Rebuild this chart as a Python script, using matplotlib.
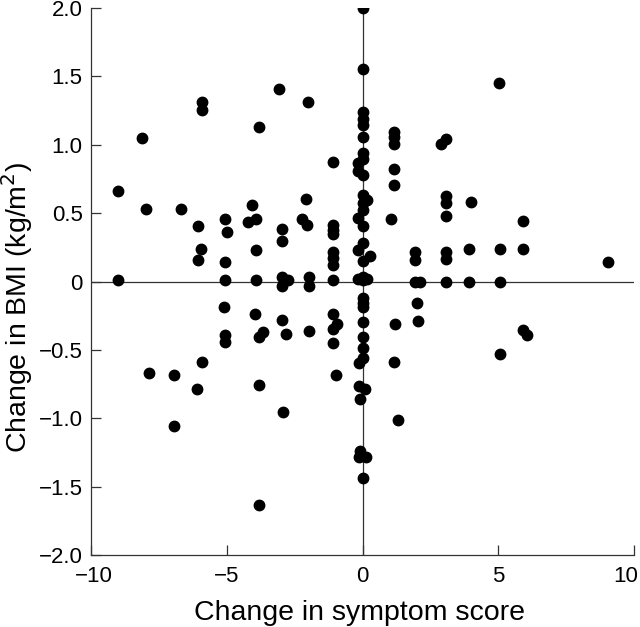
import matplotlib.pyplot as plt
from matplotlib.transforms import ScaledTranslation

# change in symptom score vs change in BMI
symptom = [
    # x = 0 column
    0.0, 0.0, 0.0, 0.0, 0.0, 0.0, 0.0, 0.0, -0.17, -0.17, 0.0,
    0.0, 0.18, 0.0, 0.0, -0.15, 0.0, 0.0, -0.15, 0.26, 0.0,
    -0.15, 0.15, 0.0, 0.0,
    0.0, 0.0, 0.0, 0.0, 0.0, 0.0, 0.0, -0.12, -0.12, 0.08, -0.08,
    -0.08, -0.12, 0.12, 0.0,
    # left half
    -3.08, -1.99, -5.9, -5.9, -3.83, -8.1, -1.08, -9.0, -7.97, -6.68,
    -6.07, -5.94, -6.07, -9.0, -5.08, -4.98, -5.08, -5.05,
    -4.06, -4.22, -3.92, -3.94, -3.94,
    -2.96, -2.96, -2.96, -2.96, -2.75,
    -2.1, -2.22, -2.05, -1.98, -1.98,
    -1.09, -1.09, -1.09, -1.09, -1.09, -1.09, -1.09,
    -5.1, -3.95, -2.98, -1.08, -1.08, -0.95, -1.98, -2.8, -3.67, -3.82,
    -5.08, -5.08, -1.08, -5.92, -7.85, -6.95, -6.09, -3.82, -0.99,
    -2.93, -6.95, -3.82,
    # right half
    5.02, 1.14, 1.14, 1.14, 2.9, 3.08, 1.14, 1.14, 3.06, 3.06, 4.0,
    3.06, 1.04, 5.9, 1.92, 1.92, 3.06, 3.06, 3.92, 5.05, 5.9, 9.04,
    1.92, 2.1, 3.06, 3.92, 5.05,
    2.01, 2.05, 1.18, 1.15, 1.31, 5.9, 6.07, 5.05,
]
bmi = [
    2.0, 1.555, 1.24, 1.19, 1.145, 1.06, 0.94, 0.895, 0.866, 0.805, 0.78,
    0.635, 0.6, 0.574, 0.525, 0.465, 0.404, 0.28, 0.234, 0.19, 0.148,
    0.02, 0.02, 0.01, 0.03,
    -0.12, -0.155, -0.19, -0.294, -0.406, -0.49, -0.557, -0.594, -0.764, -0.783,
    -0.86, -1.24, -1.287, -1.287, -1.44,
    1.41, 1.31, 1.31, 1.255, 1.13, 1.05, 0.878, 0.66, 0.53, 0.53,
    0.404, 0.24, 0.156, 0.01, 0.46, 0.36, 0.14, 0.01,
    0.56, 0.433, 0.458, 0.234, 0.01,
    0.385, 0.30, 0.034, -0.03, 0.01,
    0.606, 0.458, 0.41, 0.034, -0.03,
    0.41, 0.38, 0.35, 0.214, 0.173, 0.124, 0.01,
    -0.187, -0.236, -0.285, -0.236, -0.345, -0.314, -0.362, -0.387, -0.367, -0.406,
    -0.39, -0.443, -0.448, -0.586, -0.669, -0.686, -0.788, -0.759, -0.686,
    -0.958, -1.058, -1.637,
    1.455, 1.097, 1.06, 1.007, 1.007, 1.04, 0.82, 0.708, 0.623, 0.574, 0.58,
    0.482, 0.458, 0.445, 0.214, 0.156, 0.214, 0.166, 0.24, 0.24, 0.24, 0.14,
    0.0, 0.0, 0.0, 0.0, 0.0,
    -0.16, -0.29, -0.314, -0.586, -1.015, -0.358, -0.39, -0.528,
]
xticks = [-10, -5, 0, 5, 10]
yticks = [-2.0, -1.5, -1.0, -0.5, 0, 0.5, 1.0, 1.5, 2.0]

plt.rcParams['font.family'] = ['Liberation Sans', 'DejaVu Sans']

fig = plt.figure(figsize=(6.4, 6.27), dpi=100)
ax = fig.add_axes([0.142, 0.115, 0.849, 0.872])

ax.axhline(0, color='#333333', lw=0.9, zorder=1)
ax.axvline(0, color='#333333', lw=0.9, zorder=1)
ax.plot(symptom, bmi, 'o', color='black', markersize=7.5, zorder=3)

ax.set_xlim(-10, 10)
ax.set_ylim(-2, 2)
ax.set_xticks(xticks)
ax.set_xticklabels(['\u221210', '\u22125', '0', '5', '10'])
ax.set_yticks(yticks)
ax.set_yticklabels([f'{v:.1f}'.replace('-', '\u2212') if v != 0 else '0' for v in yticks])

for side in ['top', 'right']:
    ax.spines[side].set_visible(False)
for side in ['left', 'bottom']:
    ax.spines[side].set_color('#333333')
    ax.spines[side].set_linewidth(0.9)

ax.tick_params(direction='in', length=7, width=0.9, color='#333333', labelsize=16)
ax.tick_params(axis='x', pad=8)
ax.tick_params(axis='y', pad=6)

# the last x label sits just inside the right edge, the first a bit right
xlabels = ax.get_xticklabels()
xlabels[-1].set_horizontalalignment('right')
xlabels[-1].set_transform(xlabels[-1].get_transform()
                          + ScaledTranslation(4 / 100, 0, fig.dpi_scale_trans))
xlabels[0].set_transform(xlabels[0].get_transform()
                         + ScaledTranslation(3 / 100, 0, fig.dpi_scale_trans))

fig.text(0.561, 0.011, 'Change in symptom score', fontsize=20.5,
         ha='center', va='baseline')
fig.text(0.026, 0.509, 'Change in BMI (kg/m$^2$)', fontsize=20.5,
         rotation=90, ha='center', va='center')

fig.savefig('out.png', dpi=100)
